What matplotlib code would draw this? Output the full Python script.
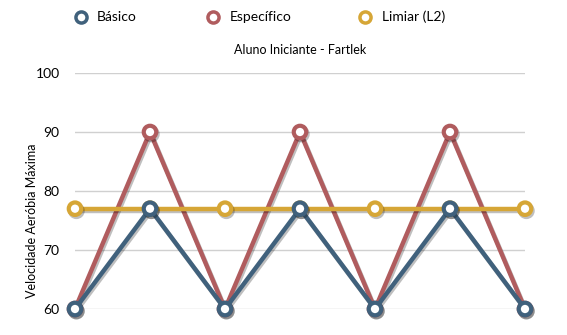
import matplotlib
matplotlib.use("Agg")
import matplotlib.pyplot as plt
import matplotlib.patheffects as pe
from matplotlib.lines import Line2D

etapas = [1, 2, 3, 4, 5, 6, 7]
basico = [60, 77, 60, 77, 60, 77, 60]
especifico = [60, 90, 60, 90, 60, 90, 60]
limiar = [77, 77, 77, 77, 77, 77, 77]
series_names = ["Básico", "Específico", "Limiar (L2)"]
yticks = [60, 70, 80, 90, 100]

plt.rcParams['font.family'] = ['Lato', 'DejaVu Sans']

c_blue = "#40617c"
c_red = "#b05c5e"
c_yel = "#d6a636"
colors = [c_blue, c_red, c_yel]

W, H = 567, 335
fig = plt.figure(figsize=(W/100, H/100), dpi=100)
ax = fig.add_axes([75/W, 26/H, 450/W, 236/H])

shadow = [pe.SimpleLineShadow(offset=(1, -1.5), alpha=0.25, shadow_color="k"), pe.Normal()]

order = [(especifico, c_red, 2), (limiar, c_yel, 3), (basico, c_blue, 4)]
for vals, col, z in order:
    ax.plot(etapas, vals, color=col, lw=3.2, marker='o', markersize=9,
            markerfacecolor='white', markeredgecolor=col, markeredgewidth=3,
            clip_on=False, zorder=z, path_effects=shadow)

ax.set_xlim(1, 7)
ax.set_ylim(60, 100)
ax.set_yticks(yticks)
ax.set_xticks([])
ax.yaxis.grid(True, color="#d0d0d0", lw=1)
ax.set_axisbelow(True)
for s in ax.spines.values():
    s.set_visible(False)
ax.tick_params(axis='y', length=0, labelsize=10, pad=11)
ax.set_ylabel("Velocidade Aeróbia Máxima", fontsize=9)
ax.yaxis.set_label_coords((38 - 75) / 450, (309 - 221) / 236)
ax.set_title("Aluno Iniciante - Fartlek", fontsize=9, pad=14)

# legend entries placed in figure pixels
marker_x = [81, 213, 365]
text_x = [97, 230, 382]
ly = 1 - 17 / H
for name, col, mx, tx in zip(series_names, colors, marker_x, text_x):
    fig.add_artist(Line2D([mx / W], [ly], transform=fig.transFigure, marker='o',
                          linestyle='none', markersize=8, markerfacecolor='white',
                          markeredgecolor=col, markeredgewidth=2.5))
    fig.text(tx / W, ly, name, fontsize=10, va='center', ha='left')

fig.savefig("out.png", dpi=100)
